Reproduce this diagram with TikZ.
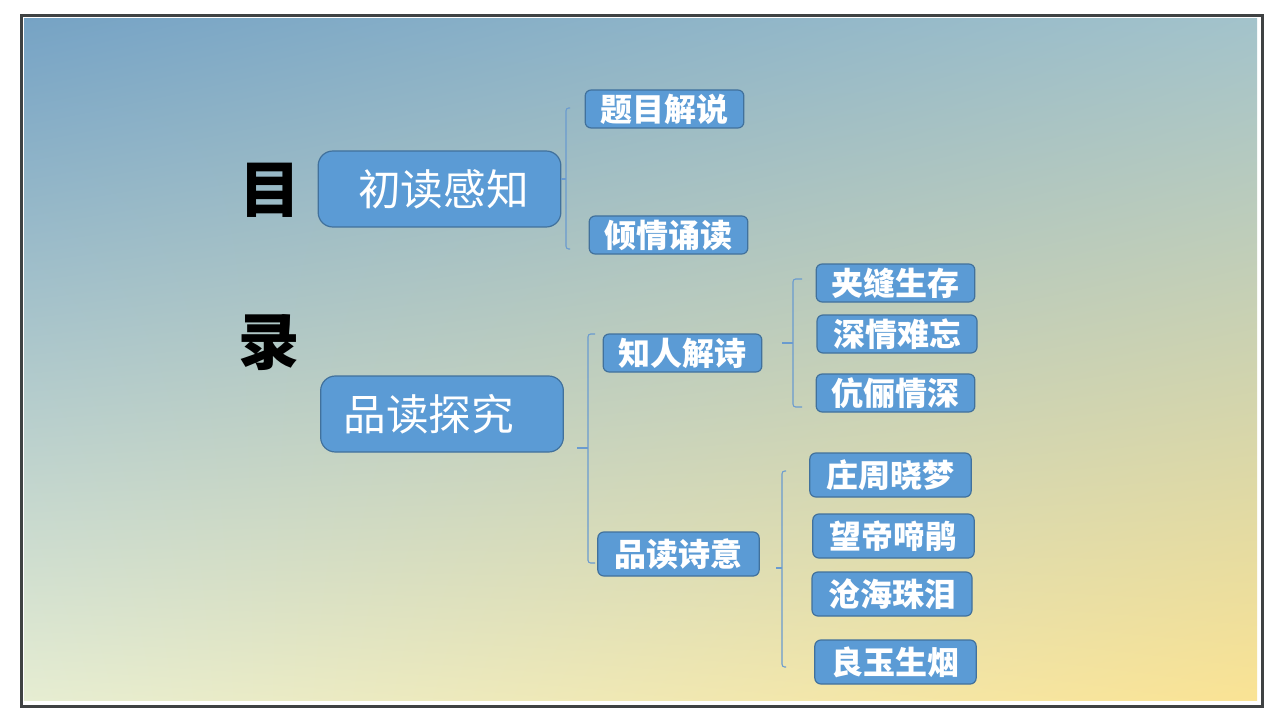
\documentclass[tikz,border=0pt]{standalone}
\usepackage{fontspec}
\usepackage{tikz}
\usepackage{xcolor}
\usetikzlibrary{shadings}
\newfontfamily\cjk{Noto Sans CJK SC}

\definecolor{boxfill}{HTML}{5B9BD5}
\definecolor{boxline}{HTML}{41719C}
\definecolor{braceline}{HTML}{6A9BCF}
\definecolor{framec}{HTML}{3F4243}
\definecolor{bgA}{HTML}{76A3C5}
\definecolor{bgB}{HTML}{A3C3CB}
\definecolor{bgC}{HTML}{E6EDD2}
\definecolor{bgD}{HTML}{FAE394}

\begin{document}
\begin{tikzpicture}[
      x = 0.75pt, y = -0.75pt,
      every node/.style = {inner sep = 0pt},
      bigbox/.style = {draw = boxline, fill = boxfill, line width = 0.9pt,
            rounded corners = 11pt, minimum width = 182pt, minimum height = 57pt,
            text = white, font = \cjk\fontsize{32}{32}\selectfont},
      smallbox/.style = {draw = boxline, fill = boxfill, line width = 0.9pt,
            rounded corners = 4.5pt, minimum width = 119pt, minimum height = 28.5pt,
            text = white, font = \cjk\bfseries\fontsize{24}{24}\selectfont},
      tallbox/.style = {smallbox, minimum width = 121pt, minimum height = 33pt},
      title/.style = {font = \cjk\bfseries\fontsize{46}{46}\selectfont},
      brace/.style = {draw = braceline, line width = 0.8pt, rounded corners = 2pt}
      ]
      \fill[white] (0,0) rectangle (1280,720);
      \useasboundingbox (0,0) rectangle (1280,720);
      \shade[upper left = bgA, upper right = bgB, lower left = bgC, lower right = bgD]
            (24,19) rectangle (1257,700);
      \draw[framec, line width = 2.25pt] (21,16) rectangle (1262,706);

      % title
      \node[title] (mu) at (270,190) {目};
      \node[title] (lu) at (269,343) {录};

      % first part
      \node[bigbox] (cdgz) at (439.5,189) {\kern 6pt初读感知};
      \node[smallbox] (tmjs) at (664.5,109) {题目解说};
      \node[smallbox] (qqsd) at (668.5,235) {倾情诵读};
      \draw[brace] (561,179) -- (566,179);
      \draw[brace] (570,108) -- (566,108) -- (566,249) -- (570,249);

      % second part
      \node[bigbox] (pdtj) at (442,414) {品读探究\kern 20pt};
      \node[smallbox] (zrjs) at (682.5,353) {知人解诗};
      \node[tallbox] (pdsy) at (678.5,554) {品读诗意};
      \draw[brace] (577,448) -- (588,448);
      \draw[brace] (595,334) -- (588,334) -- (588,563) -- (595,563);

      % knowing the poet
      \node[smallbox] (jfsc) at (895.5,283) {夹缝生存};
      \node[smallbox, minimum width = 120pt] (sqnw) at (897,334) {深情难忘};
      \node[smallbox] (klqs) at (895.5,393) {伉俪情深};
      \draw[brace] (782,343) -- (793,343);
      \draw[brace] (802,279) -- (793,279) -- (793,407) -- (802,407);

      % reading the poem
      \node[tallbox] (zzxm) at (890.5,475) {庄周晓梦};
      \node[tallbox] (wdtj) at (893.5,536) {望帝啼鹃};
      \node[tallbox, minimum width = 120pt] (chzl) at (892,594) {沧海珠泪};
      \node[tallbox] (lysy) at (895.5,662) {良玉生烟};
      \draw[brace] (776,568) -- (782,568);
      \draw[brace] (786,471) -- (782,471) -- (782,667) -- (786,667);
\end{tikzpicture}
\end{document}
